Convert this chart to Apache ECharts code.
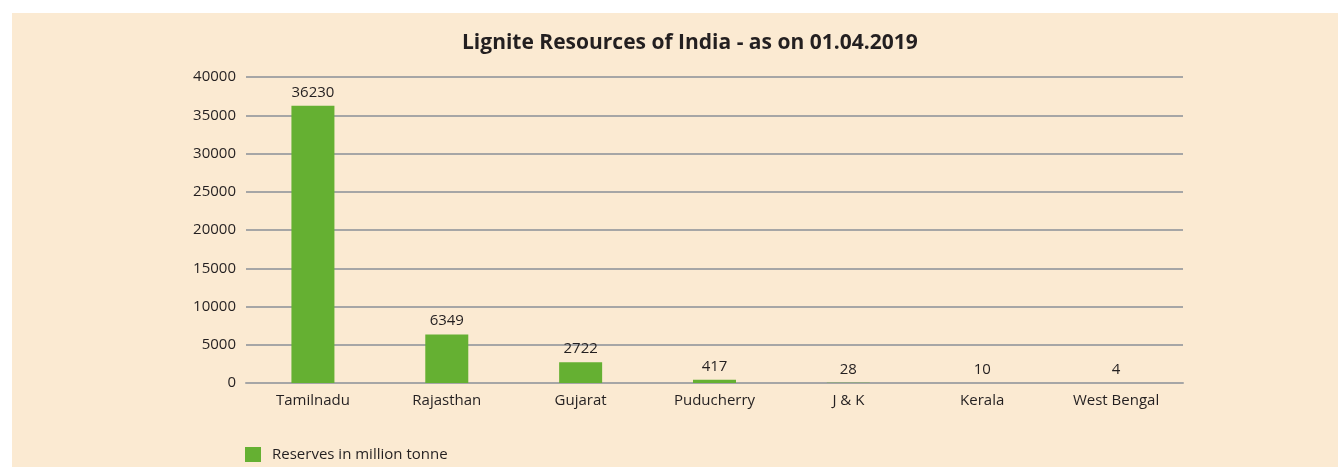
<!DOCTYPE html>
<html>
<head>
<meta charset="utf-8">
<script src="https://cdn.jsdelivr.net/npm/echarts@6/dist/echarts.min.js"></script>
<style>
	body { margin: 0; background: #ffffff; }
	#panel { position: absolute; left: 12px; top: 13px; right: 0; bottom: 0; background: #fbead2; }
	#main { position: absolute; left: 0; top: 0; width: 1338px; height: 467px; }
</style>
</head>
<body>
<div id="panel"></div>
<div id="main"></div>
<script>
// 数据
var states = ['Tamilnadu', 'Rajasthan', 'Gujarat', 'Puducherry', 'J & K', 'Kerala', 'West Bengal'];
var reserves = [36230, 6349, 2722, 417, 28, 10, 4];
var seriesName = 'Reserves in million tonne';

var chartDom = document.getElementById('main');
var myChart = echarts.init(chartDom);
var font = '"Open Sans", "Noto Sans", sans-serif';
var option = {
	backgroundColor: 'transparent',
	textStyle: { fontFamily: font },
	title: {
		text: 'Lignite Resources of India - as on 01.04.2019',
		left: 457,
		top: 28,
		textStyle: { fontSize: 21, fontWeight: 'bold', color: '#231f20', fontFamily: font },
	},
	legend: {
		left: 240,
		top: 442,
		itemWidth: 16,
		itemHeight: 15,
		icon: 'rect',
		textStyle: { fontSize: 15, color: '#231f20', fontFamily: font, padding: [0, 0, 0, 6] },
		data: [seriesName],
	},
	grid: {
		left: 246,
		right: 155,
		top: 77,
		bottom: 84,
	},
	xAxis: {
		type: 'category',
		data: states,
		axisTick: { show: false },
		axisLine: { lineStyle: { color: '#a6a6a6', width: 2 } },
		axisLabel: { fontSize: 15, color: '#231f20', margin: 10 },
	},
	yAxis: {
		type: 'value',
		min: 0,
		max: 40000,
		interval: 5000,
		axisLine: { show: false },
		axisTick: { show: false },
		axisLabel: {
			fontSize: 15,
			color: '#231f20',
			margin: 10,
			formatter: function (value) {
				return String(value);
			},
		},
		splitLine: { lineStyle: { color: '#a6a6a6', width: 2 } },
	},
	series: [
		{
			name: seriesName,
			type: 'bar',
			data: reserves,
			barWidth: 43,
			itemStyle: { color: '#65b032' },
			label: {
				show: true,
				position: 'top',
				distance: 6,
				fontSize: 15,
				color: '#231f20',
			},
		},
	],
};
myChart.setOption(option);
</script>
</body>
</html>
